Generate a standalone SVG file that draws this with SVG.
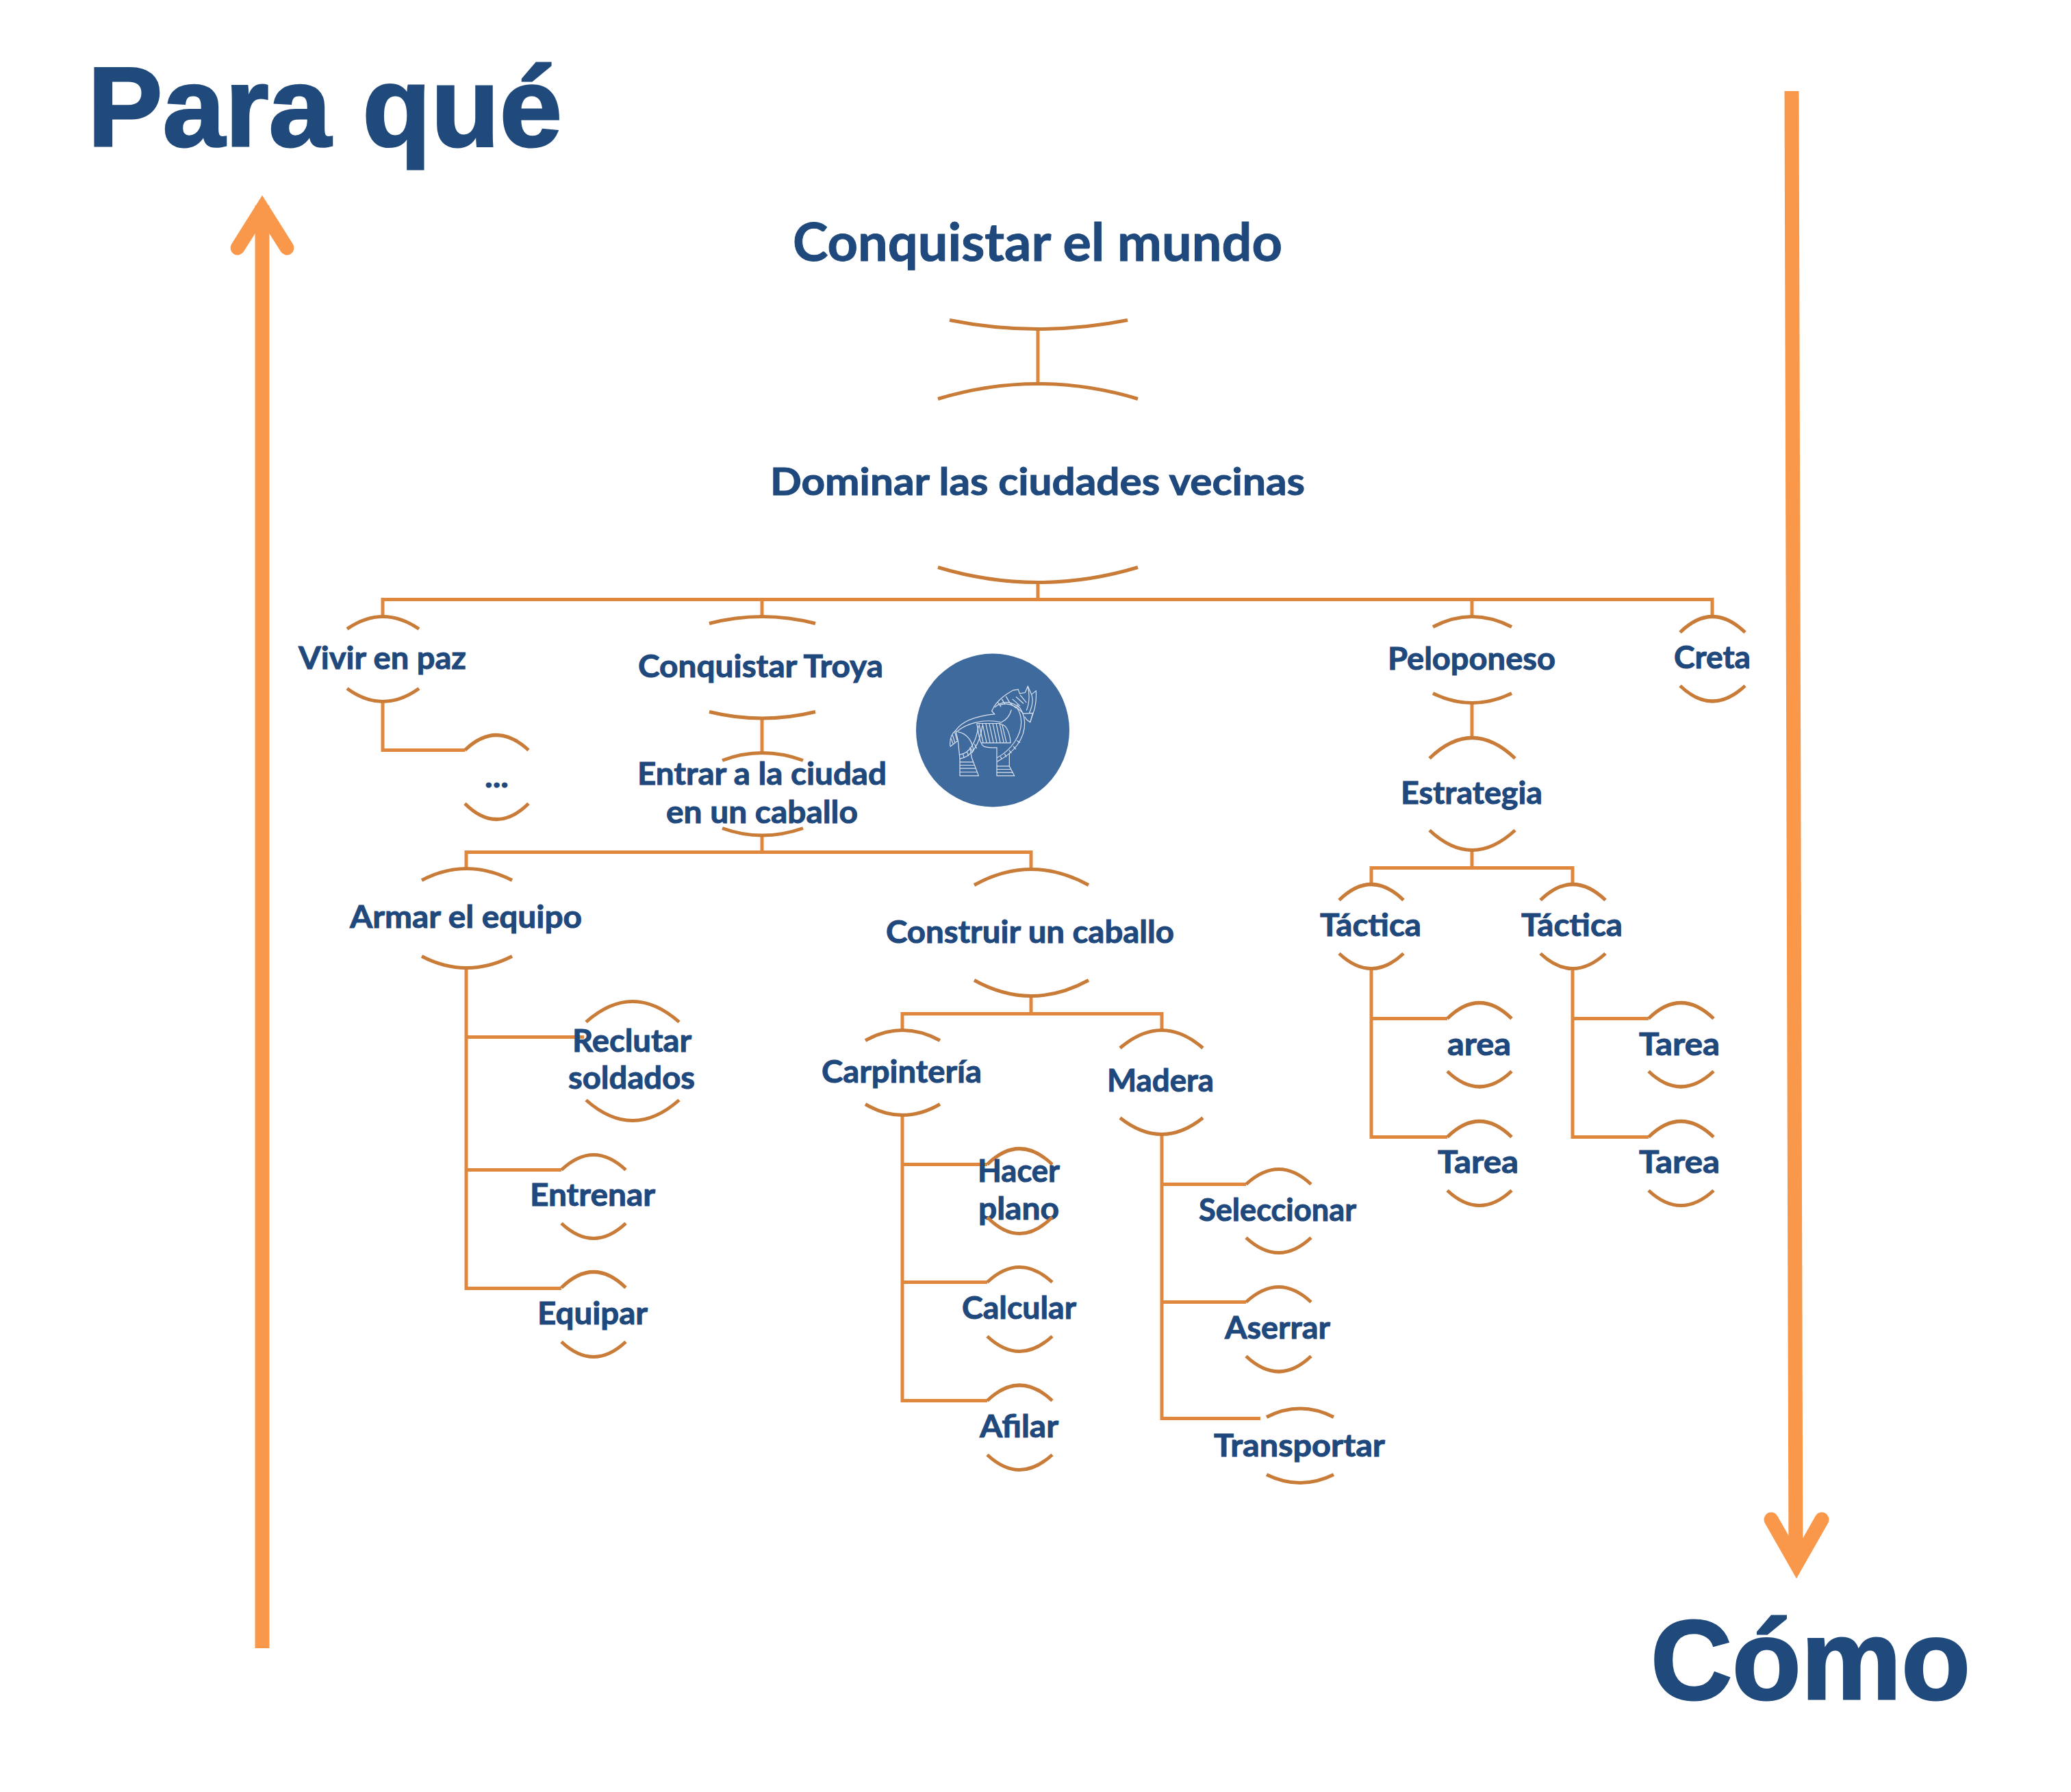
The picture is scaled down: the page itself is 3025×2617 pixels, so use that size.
<svg xmlns="http://www.w3.org/2000/svg" width="3025" height="2617" viewBox="0 0 3025 2617">
<style>
.t{font-family:"Lato","Carlito","Open Sans",sans-serif;font-weight:700;fill:#1F497D;stroke:#1F497D;stroke-width:1;font-size:46px}
.h{font-family:"Liberation Sans",Arial,sans-serif;font-weight:700;fill:#214A7C;stroke:#214A7C;stroke-width:3;font-size:165px}
.a{fill:none;stroke:#C97B38;stroke-width:5}
.c{fill:none;stroke:#E0873E;stroke-width:5}
.ar{fill:none;stroke:#F9984A;stroke-width:21}
.hl{fill:none;stroke:#DCE3EE;stroke-width:3.6}
</style>
<rect width="3025" height="2617" fill="#fff"/>
<g transform="translate(0 1.5)">
<g id="connectors">
<path class="c" d="M1516 479V559"/>
<path class="c" d="M1516 849V874M559 899V874H2501V899M1113 874V899M2150 874V899"/>
<path class="c" d="M559 1023V1094H679"/>
<path class="c" d="M1113 1047V1098M1113 1218V1243M681 1267V1243H1506V1268"/>
<path class="c" d="M681 1412V1880H820M681 1513H853M681 1707H820"/>
<path class="c" d="M1506 1453V1479M1318 1503V1479H1697V1503"/>
<path class="c" d="M1318 1627V2044H1442M1318 1699H1442M1318 1871H1442"/>
<path class="c" d="M1697 1655V2070H1841M1697 1728H1820M1697 1900H1820"/>
<path class="c" d="M2150 1025V1076M2150 1240V1266M2003 1290V1266H2297V1290"/>
<path class="c" d="M2003 1413V1659H2114M2003 1486H2114"/>
<path class="c" d="M2297 1413V1659H2408M2297 1486H2408"/>
</g>
<g id="n-conquistar-mundo"><text class="t" style="font-size:77px" x="1158" y="379" textLength="715" lengthAdjust="spacingAndGlyphs">Conquistar el mundo</text><path class="a" d="M1387 466Q1516 492 1647 466"/></g>
<g id="n-dominar"><path class="a" d="M1370 581Q1516 537 1662 581"/><text class="t" style="font-size:56px" x="1125" y="721" textLength="781" lengthAdjust="spacingAndGlyphs">Dominar las ciudades vecinas</text><path class="a" d="M1370 827Q1516 871 1662 827"/></g>
<g id="n-vivir"><path class="a" d="M507 917Q559 881 612 917"/><text class="t" x="436" y="975" textLength="245" lengthAdjust="spacingAndGlyphs">Vivir en paz</text><path class="a" d="M507 1004Q559 1042 612 1004"/></g>
<g id="n-dots"><path class="a" d="M679 1094Q725 1050 772 1094"/><text class="t" x="708" y="1148" textLength="35" lengthAdjust="spacingAndGlyphs">...</text><path class="a" d="M679 1172Q725 1218 772 1172"/></g>
<g id="n-troya"><path class="a" d="M1036 909Q1113 889 1191 909"/><text class="t" x="932" y="987" textLength="358" lengthAdjust="spacingAndGlyphs">Conquistar Troya</text><path class="a" d="M1036 1038Q1113 1057 1191 1038"/></g>
<g id="n-entrar"><path class="a" d="M1055 1109Q1113 1087 1173 1109"/><text class="t" x="931" y="1144" textLength="364" lengthAdjust="spacingAndGlyphs">Entrar a la ciudad</text><text class="t" x="973" y="1200" textLength="280" lengthAdjust="spacingAndGlyphs">en un caballo</text><path class="a" d="M1055 1208Q1113 1229 1173 1208"/></g>
<g id="n-caballo-img">
<circle cx="1450" cy="1065" r="112" fill="#3F6A9E"/>
<g transform="translate(1380 990) scale(.3333)">
<path class="hl" d="M24 296C20 262 30 240 48 226C75 185 140 162 218 154L206 141C222 100 262 70 298 50L322 46L328 64L352 60L364 32L380 68L400 52C402 90 398 120 388 148L374 190L358 178L350 165"/>
<path class="hl" d="M24 296L58 270L48 226M34 246L44 278M28 262L36 284M44 234L54 268"/>
<path class="hl" d="M52 232C90 196 170 172 248 190C270 180 285 160 292 135"/>
<path class="hl" d="M58 270L66 350V424H148L118 345L110 300M66 364H124M66 378H130M66 392H136M66 408H142"/>
<path class="hl" d="M58 232C95 238 122 270 126 318"/>
<path class="hl" d="M66 350C115 340 150 300 165 205M66 332C105 325 135 290 148 205M80 328L84 345M98 320L104 338M115 305L122 324M130 285L140 305"/>
<path class="hl" d="M140 195H240L262 205C278 220 288 255 288 280H160C150 270 150 240 140 195M150 198L168 278M165 196L183 278M180 196L198 278M195 196L213 278M210 194L228 278M225 194L243 278M240 194L258 278M252 202L270 278"/>
<path class="hl" d="M160 280C165 298 175 301 228 301V424H305L283 383V325"/>
<path class="hl" d="M230 345C290 312 335 250 335 190C335 160 328 140 312 122M230 362C300 325 352 265 350 190C348 155 335 130 316 112"/>
<path class="hl" d="M228 382H283M228 396H290M228 410H298M244 340L250 352M262 328L270 342M282 312L292 326M300 295L312 308M316 270L330 280"/>
<path class="hl" d="M218 125C250 95 290 95 325 125M232 102L246 122M250 88L264 112M268 76L284 104M240 115C275 100 310 115 345 152M280 100L312 128M296 88L330 118M312 78L345 108M330 70L358 104M364 32C372 70 372 105 358 138M380 68C388 90 384 120 370 150M345 152L386 150L374 190"/>
</g>
</g>
<g id="n-armar"><path class="a" d="M616 1284Q681 1250 748 1284"/><text class="t" x="511" y="1353" textLength="339" lengthAdjust="spacingAndGlyphs">Armar el equipo</text><path class="a" d="M616 1395Q681 1429 748 1395"/></g>
<g id="n-reclutar"><path class="a" d="M856 1491Q924 1431 992 1491"/><text class="t" x="836" y="1534" textLength="174" lengthAdjust="spacingAndGlyphs">Reclutar</text><text class="t" x="830" y="1588" textLength="185" lengthAdjust="spacingAndGlyphs">soldados</text><path class="a" d="M856 1605Q924 1665 992 1605"/></g>
<g id="n-entrenar"><path class="a" d="M820 1707Q867 1663 914 1707"/><text class="t" x="774" y="1759" textLength="183" lengthAdjust="spacingAndGlyphs">Entrenar</text><path class="a" d="M820 1785Q867 1829 914 1785"/></g>
<g id="n-equipar"><path class="a" d="M820 1879Q867 1833 914 1879"/><text class="t" x="785" y="1932" textLength="161" lengthAdjust="spacingAndGlyphs">Equipar</text><path class="a" d="M820 1958Q867 2002 914 1958"/></g>
<g id="n-construir"><path class="a" d="M1423 1291Q1506 1245 1590 1291"/><text class="t" x="1294" y="1375" textLength="421" lengthAdjust="spacingAndGlyphs">Construir un caballo</text><path class="a" d="M1423 1430Q1506 1476 1590 1430"/></g>
<g id="n-carpinteria"><path class="a" d="M1264 1518Q1318 1488 1373 1518"/><text class="t" x="1200" y="1579" textLength="234" lengthAdjust="spacingAndGlyphs">Carpintería</text><path class="a" d="M1264 1611Q1318 1643 1373 1611"/></g>
<g id="n-hacer"><path class="a" d="M1442 1699Q1489 1653 1537 1699"/><text class="t" x="1428" y="1724" textLength="120" lengthAdjust="spacingAndGlyphs">Hacer</text><text class="t" x="1429" y="1779" textLength="118" lengthAdjust="spacingAndGlyphs">plano</text><path class="a" d="M1442 1776Q1489 1824 1537 1776"/></g>
<g id="n-calcular"><path class="a" d="M1442 1871Q1489 1827 1537 1871"/><text class="t" x="1405" y="1924" textLength="167" lengthAdjust="spacingAndGlyphs">Calcular</text><path class="a" d="M1442 1950Q1489 1994 1537 1950"/></g>
<g id="n-afilar"><path class="a" d="M1442 2044Q1489 1999 1537 2044"/><text class="t" x="1431" y="2097" textLength="115" lengthAdjust="spacingAndGlyphs">Afilar</text><path class="a" d="M1442 2123Q1489 2167 1537 2123"/></g>
<g id="n-madera"><path class="a" d="M1636 1529Q1697 1477 1757 1529"/><text class="t" x="1617" y="1592" textLength="156" lengthAdjust="spacingAndGlyphs">Madera</text><path class="a" d="M1636 1631Q1697 1679 1757 1631"/></g>
<g id="n-seleccionar"><path class="a" d="M1820 1728Q1868 1684 1915 1728"/><text class="t" x="1751" y="1781" textLength="230" lengthAdjust="spacingAndGlyphs">Seleccionar</text><path class="a" d="M1820 1806Q1868 1850 1915 1806"/></g>
<g id="n-aserrar"><path class="a" d="M1820 1900Q1868 1856 1915 1900"/><text class="t" x="1789" y="1953" textLength="154" lengthAdjust="spacingAndGlyphs">Aserrar</text><path class="a" d="M1820 1979Q1868 2024 1915 1979"/></g>
<g id="n-transportar"><path class="a" d="M1850 2068Q1899 2043 1948 2068"/><text class="t" x="1773" y="2125" textLength="250" lengthAdjust="spacingAndGlyphs">Transportar</text><path class="a" d="M1850 2152Q1899 2176 1948 2152"/></g>
<g id="n-peloponeso"><path class="a" d="M2093 914Q2150 884 2208 914"/><text class="t" x="2027" y="976" textLength="245" lengthAdjust="spacingAndGlyphs">Peloponeso</text><path class="a" d="M2093 1011Q2150 1039 2208 1011"/></g>
<g id="n-creta"><path class="a" d="M2454 922Q2501 876 2549 922"/><text class="t" x="2445" y="974" textLength="112" lengthAdjust="spacingAndGlyphs">Creta</text><path class="a" d="M2454 1000Q2501 1045 2549 1000"/></g>
<g id="n-estrategia"><path class="a" d="M2088 1106Q2150 1046 2213 1106"/><text class="t" x="2046" y="1172" textLength="207" lengthAdjust="spacingAndGlyphs">Estrategia</text><path class="a" d="M2088 1211Q2150 1269 2213 1211"/></g>
<g id="n-tactica1"><path class="a" d="M1956 1313Q2003 1267 2050 1313"/><text class="t" x="1928" y="1365" textLength="148" lengthAdjust="spacingAndGlyphs">Táctica</text><path class="a" d="M1956 1391Q2003 1435 2050 1391"/></g>
<g id="n-tactica2"><path class="a" d="M2250 1313Q2297 1267 2345 1313"/><text class="t" x="2222" y="1365" textLength="148" lengthAdjust="spacingAndGlyphs">Táctica</text><path class="a" d="M2250 1391Q2297 1435 2345 1391"/></g>
<g id="n-area"><path class="a" d="M2114 1486Q2161 1440 2208 1486"/><text class="t" x="2114" y="1539" textLength="93" lengthAdjust="spacingAndGlyphs">area</text><path class="a" d="M2114 1563Q2161 1608 2208 1563"/></g>
<g id="n-tarea1"><path class="a" d="M2114 1659Q2161 1613 2208 1659"/><text class="t" x="2100" y="1711" textLength="118" lengthAdjust="spacingAndGlyphs">Tarea</text><path class="a" d="M2114 1737Q2161 1781 2208 1737"/></g>
<g id="n-tarea2"><path class="a" d="M2408 1486Q2455 1440 2503 1486"/><text class="t" x="2394" y="1539" textLength="118" lengthAdjust="spacingAndGlyphs">Tarea</text><path class="a" d="M2408 1563Q2455 1608 2503 1563"/></g>
<g id="n-tarea3"><path class="a" d="M2408 1659Q2455 1613 2503 1659"/><text class="t" x="2394" y="1711" textLength="118" lengthAdjust="spacingAndGlyphs">Tarea</text><path class="a" d="M2408 1737Q2455 1781 2503 1737"/></g>
</g>
<g id="arrow-up"><path class="ar" d="M383 2407V300"/><path class="ar" stroke-linecap="round" d="M347 362L383 305L419 362"/></g>
<g id="arrow-down"><path class="ar" d="M2617 133L2623 2282"/><path class="ar" stroke-linecap="round" d="M2587 2219L2624 2284L2661 2219"/></g>
<g id="label-para"><text class="h" x="128" y="213" textLength="693" lengthAdjust="spacingAndGlyphs">Para qué</text></g>
<g id="label-como"><text class="h" x="2411" y="2481" textLength="467" lengthAdjust="spacingAndGlyphs">Cómo</text></g>
</svg>
